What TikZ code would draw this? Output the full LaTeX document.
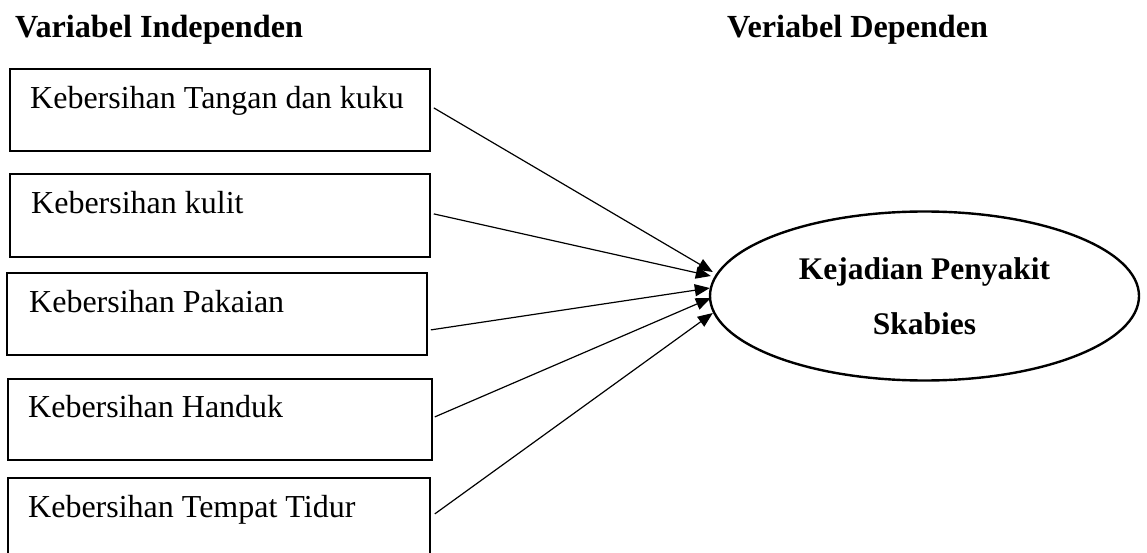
\documentclass[tikz,border=0pt]{standalone}
\usepackage{fontspec}
\setmainfont{Liberation Serif}
\usetikzlibrary{shapes.geometric,arrows.meta}
\begin{document}
\begin{tikzpicture}[x=1pt,y=-1pt,
  varbox/.style={draw,line width=1.8pt,rectangle,inner sep=0pt,anchor=north west},
  lbl/.style={inner sep=0pt,anchor=base west,font=\fontsize{32}{36}\selectfont},
  head/.style={inner sep=0pt,anchor=base west,font=\fontsize{32.2}{36}\selectfont\bfseries},
  outcome/.style={draw,ellipse,line width=2.4pt,inner sep=0pt,minimum width=429pt,minimum height=169pt,
    align=center,font=\fontsize{31.5}{55}\selectfont\bfseries},
  arr/.style={line width=1.2pt,-{Triangle[length=15pt,width=12pt]}}]
\useasboundingbox (0,0) rectangle (1147,553);
\clip (0,0) rectangle (1147,553);

% column headings
\node[head] (hin) at (15,38) {Variabel Independen};
\node[head] (hdep) at (727,38) {Veriabel Dependen};

% independent variables
\node[varbox,minimum width=420pt,minimum height=82pt] (b1) at (9,68) {};
\node[varbox,minimum width=420pt,minimum height=83pt] (b2) at (9,173) {};
\node[varbox,minimum width=420pt,minimum height=82pt] (b3) at (6,272) {};
\node[varbox,minimum width=424pt,minimum height=81pt] (b4) at (7,378) {};
\node[varbox,minimum width=422pt,minimum height=82pt] (b5) at (7,477) {};

\node[lbl] (t1) at (30,109) {Kebersihan Tangan dan kuku};
\node[lbl] (t2) at (31,214) {Kebersihan kulit};
\node[lbl] (t3) at (29,312) {Kebersihan Pakaian};
\node[lbl] (t4) at (28,417) {Kebersihan Handuk};
\node[lbl] (t5) at (28,517) {Kebersihan Tempat Tidur};

% dependent variable
\node[outcome] (e) at (924.5,296) {Kejadian Penyakit\\Skabies};

% arrow tips gathered at the left side of the ellipse
\coordinate (p1) at ([shift={(4,-24)}]e.west);
\coordinate (p2) at ([shift={(2,-20)}]e.west);
\coordinate (p3) at ([shift={(1,-8)}]e.west);
\coordinate (p4) at ([shift={(2,2)}]e.west);
\coordinate (p5) at ([shift={(4,17)}]e.west);

\draw[arr] ([shift={(3,-2)}]b1.east) -- (p1);
\draw[arr] ([shift={(3,-1.5)}]b2.east) -- (p2);
\draw[arr] ([shift={(3,16)}]b3.east) -- (p3);
\draw[arr] ([shift={(2,-2.5)}]b4.east) -- (p4);
\draw[arr] ([shift={(4,-5)}]b5.east) -- (p5);
\end{tikzpicture}
\end{document}
